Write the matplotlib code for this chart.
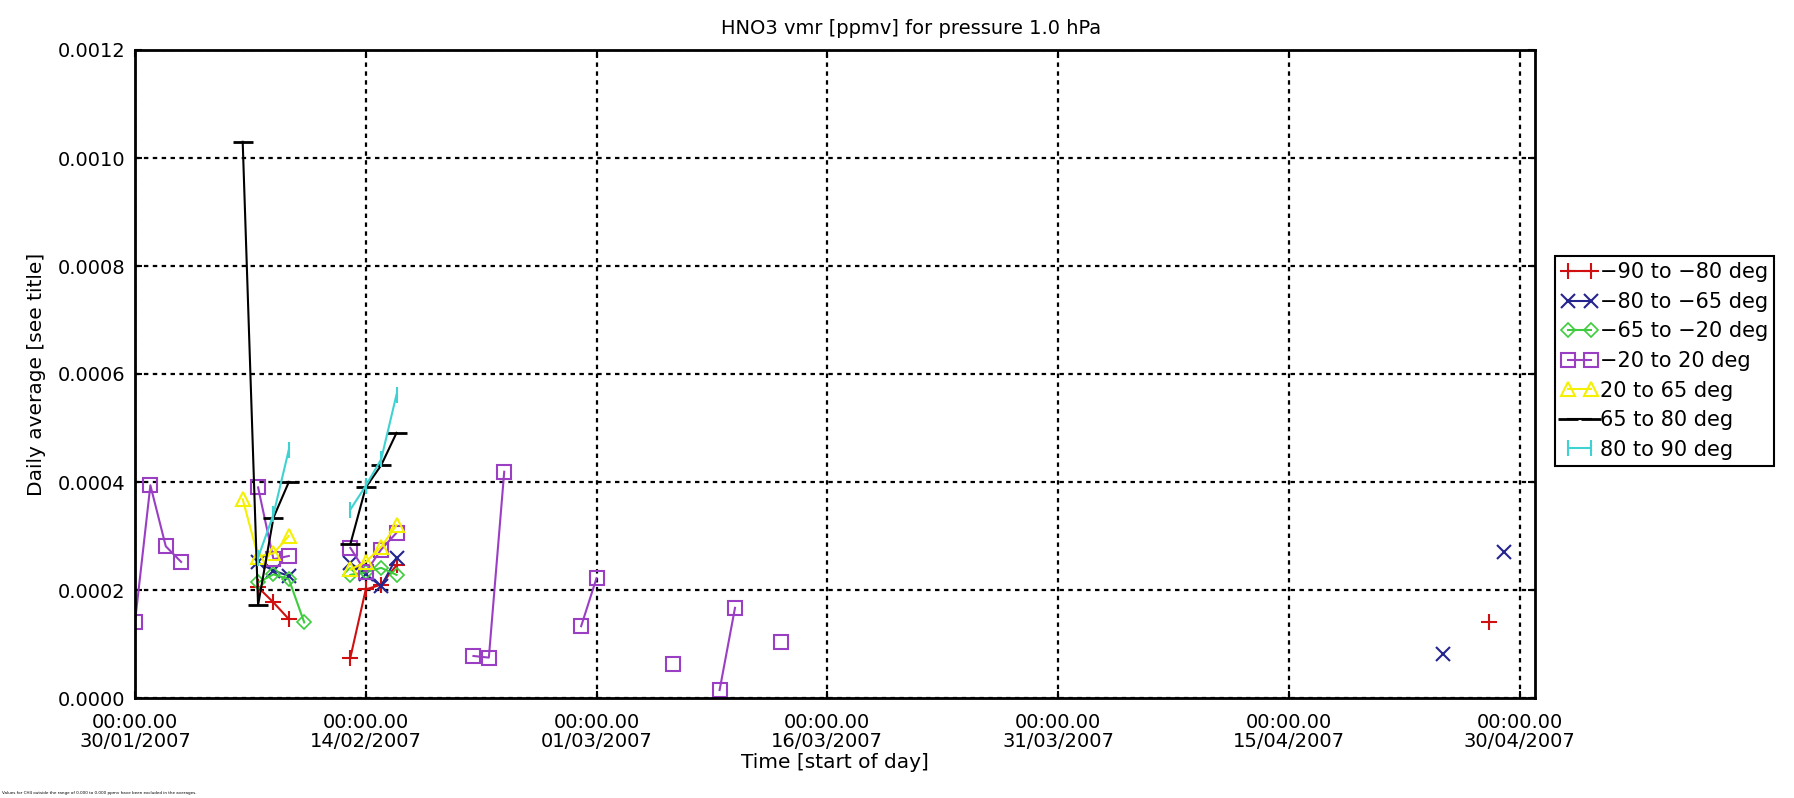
import numpy as np
import pandas as pd
import matplotlib
matplotlib.use("Agg")
import matplotlib.pyplot as plt
import matplotlib.dates as mdates

# Daily averages, days counted from 30/01/2007
start = pd.Timestamp("2007-01-30")

red_days = [8, 9, 10, 14, 15, 16, 17, 88]
red_vals = [0.000205, 0.000177, 0.000146, 0.000075, 0.000201, 0.000210, 0.000246, 0.000141]

blue_days = [8, 9, 10, 14, 15, 16, 17, 85, 89]
blue_vals = [0.000251, 0.000236, 0.000226, 0.000250, 0.000229, 0.000207, 0.000260, 0.0000822, 0.000270]

green_days = [8, 9, 10, 11, 14, 15, 16, 17]
green_vals = [0.000214, 0.000229, 0.000220, 0.000140, 0.000228, 0.000233, 0.000241, 0.000228]

purple_days = [0, 1, 2, 3, 8, 9, 10, 14, 15, 16, 17, 22, 23, 24, 29, 30, 35, 38, 39, 42]
purple_vals = [0.000141, 0.000394, 0.000281, 0.000252, 0.000390, 0.000257, 0.000263,
               0.000278, 0.000233, 0.000275, 0.000306, 0.0000778, 0.0000748, 0.000419,
               0.000133, 0.000222, 0.0000637, 0.0000148, 0.000167, 0.000104]

yellow_days = [7, 8, 9, 10, 14, 15, 16, 17]
yellow_vals = [0.000368, 0.000262, 0.000268, 0.000300, 0.000238, 0.000252, 0.000280, 0.000320]

black_days = [7, 8, 9, 10, 14, 15, 16, 17]
black_vals = [0.00103, 0.000172, 0.000334, 0.000400, 0.000285, 0.000390, 0.000431, 0.000491]

cyan_days = [8, 9, 10, 14, 15, 16, 17]
cyan_vals = [0.000260, 0.000340, 0.000460, 0.000349, 0.000393, 0.000442, 0.000562]

labels = ["\u221290 to \u221280 deg", "\u221280 to \u221265 deg", "\u221265 to \u221220 deg",
          "\u221220 to 20 deg", "20 to 65 deg", "65 to 80 deg", "80 to 90 deg"]

plt.rcParams['font.family'] = ['DejaVu Sans']

fig = plt.figure(figsize=(17.94, 7.98), dpi=100)
ax = fig.add_axes([135 / 1794, 1 - 698 / 798, 1400 / 1794, 648 / 798])


def daily(days, vals):
    # reindex to every day so that missing days break the line
    s = pd.Series(vals, index=[start + pd.Timedelta(days=d) for d in days])
    full = pd.date_range(s.index.min(), s.index.max(), freq="D")
    return s.reindex(full)


styles = [
    (red_days, red_vals, "#d01010", "+", 11, 1.5),
    (blue_days, blue_vals, "#25258f", "x", 10, 1.5),
    (green_days, green_vals, "#3ccc3c", "D", 7, 1.2),
    (purple_days, purple_vals, "#9a3fc4", "s", 10, 1.5),
    (yellow_days, yellow_vals, "#f5f000", "^", 10, 1.5),
    (black_days, black_vals, "black", "_", 14, 2.0),
    (cyan_days, cyan_vals, "#3fd2d2", "|", 12, 1.5),
]

for (d, v, c, m, ms, mew), lab in zip(styles, labels):
    s = daily(d, v)
    ax.plot(s.index, s.values, color=c, lw=1.5, marker=m, ms=ms, mew=mew,
            mfc="none", mec=c, label=lab)

ax.set_xlim(pd.Timestamp("2007-01-30"), pd.Timestamp("2007-05-01"))
ax.set_ylim(0, 0.0012)
ax.set_yticks(np.arange(0, 0.00121, 0.0002))
ax.yaxis.set_major_formatter(matplotlib.ticker.FormatStrFormatter("%.4f"))
ax.set_xticks(pd.date_range("2007-01-30", periods=7, freq="15D"))
ax.xaxis.set_major_formatter(mdates.DateFormatter("%H:%M.%S\n%d/%m/%Y"))

ax.grid(True, color="black", linestyle=(0, (2, 2)), lw=1.6)
ax.tick_params(direction="in", length=5, width=1.5, top=True, right=True,
               labelsize=14)
ax.tick_params(axis="x", pad=11)
ax.tick_params(axis="y", pad=7)
for t in ax.xaxis.get_major_ticks():
    t.label1.set_linespacing(0.95)
for sp in ax.spines.values():
    sp.set_linewidth(2)

fig.text(911 / 1794, 1 - 34 / 798, "HNO3 vmr [ppmv] for pressure 1.0 hPa",
         fontsize=14, ha="center", va="baseline")
ax.set_xlabel("Time [start of day]", fontsize=14.5, labelpad=2)
ax.set_ylabel("Daily average [see title]", fontsize=14.5, labelpad=8)

leg = fig.legend(loc="upper left", bbox_to_anchor=(1555 / 1794, 1 - 256 / 798),
                 fontsize=15, numpoints=2, handlelength=1.75, handletextpad=0.1,
                 labelspacing=0.46, borderpad=0.3, borderaxespad=0, fancybox=False,
                 framealpha=1, edgecolor="black")
leg.get_frame().set_linewidth(1.5)

fig.text(0.001, 0.004, "Values for CH4 outside the range of 0.000 to 0.000 ppmv have been excluded in the averages.",
         fontsize=3, ha="left", va="bottom")

fig.savefig("out.png", dpi=100)
